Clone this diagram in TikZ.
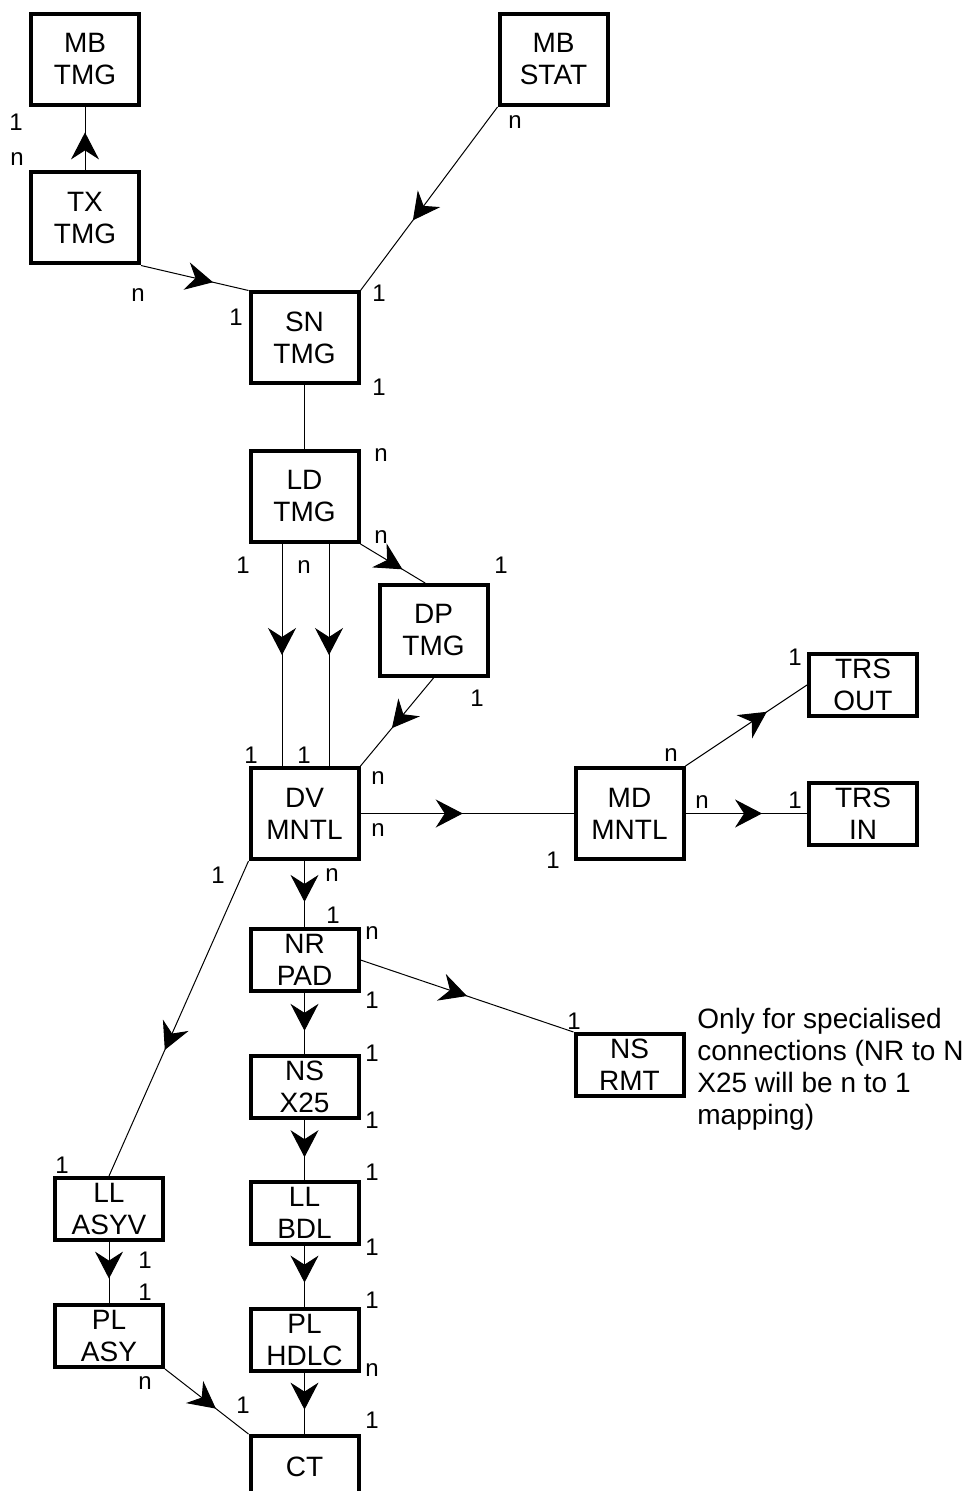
\documentclass[tikz,border=0pt]{standalone}
\usepackage{fontspec}
\setmainfont{Liberation Sans}
\usetikzlibrary{arrows.meta,positioning,decorations.markings}

\begin{document}
\begin{tikzpicture}[x=0.5pt, y=-0.5pt,
  box/.style={rectangle, draw, line width=2pt, minimum width=54pt, minimum height=45.5pt, inner sep=0pt, align=center, font=\fontsize{14}{16}\selectfont},
  flat/.style={box, minimum height=31pt},
  card/.style={inner sep=0pt, font=\fontsize{12}{14}\selectfont},
  note/.style={inner sep=0pt, align=left, font=\fontsize{14}{16}\selectfont},
  link/.style={line width=0.5pt},
  arrowline/.style={link, postaction={decorate}, decoration={markings, mark=at position #1 with {\arrow{Stealth[length=13.5pt, width=14pt, inset=4.5pt]}}}},
  arrowline/.default=0.6]
  \useasboundingbox (0,0) rectangle (963,1491);
  \node[box] (mbtmg) at (85,59.5) {MB\\TMG};
  \node[box] (txtmg) at (85,218) {TX\\TMG};
  \node[box] (mbstat) at (553.5,59.5) {MB\\STAT};
  \node[box] (sntmg) at (304.5,338) {SN\\TMG};
  \node[box] (ldtmg) at (304.5,496.5) {LD\\TMG};
  \node[box] (dptmg) at (433.5,630.5) {DP\\TMG};
  \node[box] (dvmntl) at (304.5,813.5) {DV\\MNTL};
  \node[box] (mdmntl) at (629.5,813.5) {MD\\MNTL};
  \node[flat] (trsout) at (863,685) {TRS\\OUT};
  \node[flat] (trsin) at (863,813.5) {TRS\\IN};
  \node[flat] (nrpad) at (304.5,960) {NR\\PAD};
  \node[flat] (nsrmt) at (629.5,1065) {NS\\RMT};
  \node[flat, below=30.5pt of nrpad] (nsx25) {NS\\X25};
  \node[flat, below=30pt of nsx25] (llbdl) {LL\\BDL};
  \node[flat, below=30.5pt of llbdl] (plhdlc) {PL\\HDLC};
  \node[flat, below=30.5pt of plhdlc] (ct) {CT};
  \node[flat] (llasyv) at (109,1209) {LL\\ASYV};
  \node[flat, below=30.5pt of llasyv] (plasy) {PL\\ASY};
  \node[note, anchor=north west] (remark) at (697,1008) {Only for specialised\\connections (NR to N\\X25 will be n to 1\\mapping)};

  \draw[arrowline] (txtmg) -- (mbtmg);
  \draw[arrowline=0.67] (txtmg.south east) -- (sntmg.north west);
  \draw[arrowline=0.62] (mbstat.south west) -- (sntmg.north east);
  \draw[link] (sntmg) -- (ldtmg);
  \draw[arrowline=0.5] ([xshift=-11.25pt]ldtmg.south) -- ([xshift=-11.25pt]dvmntl.north);
  \draw[arrowline=0.5] ([xshift=12.25pt]ldtmg.south) -- ([xshift=12.25pt]dvmntl.north);
  \draw[arrowline=0.65] (ldtmg.south east) -- (dptmg.100);
  \draw[arrowline=0.57] (dptmg.south) -- (dvmntl.north east);
  \draw[arrowline=0.48] (dvmntl) -- (mdmntl);
  \draw[arrowline=0.67] (mdmntl.north east) -- (trsout.west);
  \draw[arrowline=0.63] (mdmntl) -- (trsin);
  \draw[arrowline=0.62] (dvmntl) -- (nrpad);
  \draw[arrowline] (dvmntl.south west) -- (llasyv.north);
  \draw[arrowline=0.5] (nrpad.east) -- (nsrmt.north west);
  \draw[arrowline=0.62] (nrpad) -- (nsx25);
  \draw[arrowline=0.62] (nsx25) -- (llbdl);
  \draw[arrowline] (llbdl) -- (plhdlc);
  \draw[arrowline] (plhdlc) -- (ct);
  \draw[arrowline] (llasyv) -- (plasy);
  \draw[arrowline=0.61] (plasy.south east) -- (ct.north west);

  \foreach \t/\x/\y [count=\i] in {1/16/122, n/17/159, n/515/122, n/138/295, 1/236/317,
      1/379/293, 1/379/387, n/381/455, n/381/537, 1/243/565, n/304/567, 1/501/565,
      1/477/698, 1/251/755, 1/304/755, n/378/778, n/378/830, 1/218/875, n/332/875,
      1/333/915, n/372/933, 1/372/1000, 1/574/1021, 1/372/1053, 1/372/1120,
      1/372/1172, 1/372/1247, 1/372/1300, n/372/1370, 1/372/1420, 1/62/1165,
      1/145/1260, 1/145/1292, n/145/1383, 1/243/1405, n/671/755, n/702/802,
      1/553/860, 1/795/657, 1/795/800}
    \node[card] (card\i) at (\x,\y) {\t};
\end{tikzpicture}
\end{document}
